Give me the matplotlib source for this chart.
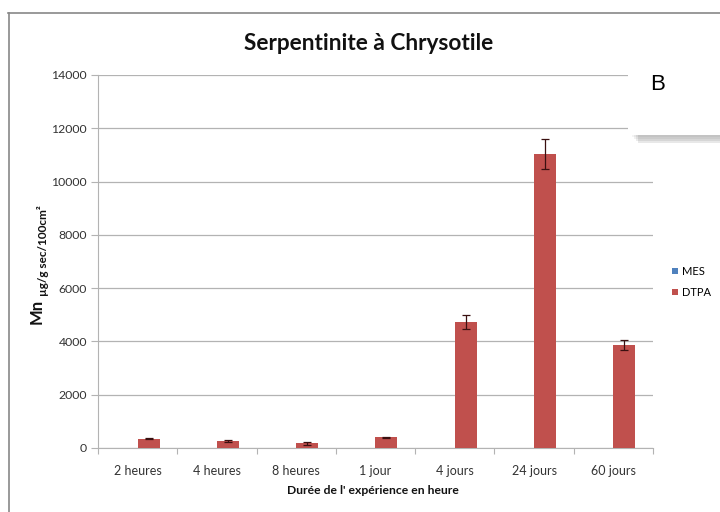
import numpy as np
import matplotlib
matplotlib.use("Agg")
import matplotlib.pyplot as plt
from matplotlib.patches import Rectangle

categories = ["2 heures", "4 heures", "8 heures", "1 jour", "4 jours", "24 jours", "60 jours"]
mes = [0, 0, 0, 0, 0, 0, 0]
dtpa = [355, 270, 170, 400, 4730, 11030, 3880]
dtpa_err = [30, 30, 40, 25, 250, 560, 190]
yticks = [0, 2000, 4000, 6000, 8000, 10000, 12000, 14000]

BLUE = "#4F81BD"
RED = "#C0504D"
GRID = "#b3b3b3"
FONT = ["Lato", "DejaVu Sans"]

W, H = 720, 512
fig = plt.figure(figsize=(W / 100, H / 100), dpi=100)
ax = fig.add_axes([98 / W, 1 - 448 / H, (653 - 98) / W, (448 - 75) / H])

x = np.arange(len(categories))
w = 0.277
ax.bar(x - w / 2, mes, w, color=BLUE, linewidth=0, label="MES", zorder=3)
ax.bar(x + w / 2, dtpa, w, color=RED, linewidth=0, label="DTPA", zorder=3)
ax.errorbar(x + w / 2, dtpa, yerr=dtpa_err, fmt="none", ecolor="#3a1010",
            elinewidth=0.9, capsize=3, capthick=0.9, zorder=4)

ax.set_xlim(-0.5, len(categories) - 0.5)
ax.set_ylim(0, 14000)
ax.set_yticks(yticks)
ax.set_yticklabels([str(v) for v in yticks], family=FONT, fontsize=8.8, color="#333333")
ax.yaxis.grid(True, color=GRID, lw=0.9, zorder=0)
ax.set_axisbelow(True)
ax.tick_params(axis="y", length=5, color=GRID, pad=3)

ax.set_xticks(np.arange(len(categories) + 1) - 0.5)
ax.set_xticklabels([])
ax.set_xticks(x, minor=True)
ax.set_xticklabels(categories, minor=True, family=FONT, fontsize=9, color="#333333")
ax.tick_params(axis="x", which="major", length=4, color=GRID)
ax.tick_params(axis="x", which="minor", length=0, pad=12)

for side in ["top", "right"]:
    ax.spines[side].set_visible(False)
ax.spines["left"].set_color(GRID)
ax.spines["bottom"].set_color(GRID)

fig.text(369 / W, 1 - 43 / H, "Serpentinite à Chrysotile", ha="center", va="center",
         family=FONT, fontsize=16.3, fontweight="bold", color="#111111")
fig.text(373 / W, 1 - 490 / H, "Durée de l' expérience en heure", ha="center", va="center",
         family=FONT, fontsize=8.7, fontweight="bold", color="#111111")
fig.text(37 / W, 1 - 311 / H, "Mn", rotation=90, ha="center", va="center",
         family=FONT, fontsize=12, fontweight="bold", color="#111111")
fig.text(43 / W, 1 - 251 / H, "µg/g sec/100cm²", rotation=90, ha="center", va="center",
         family=FONT, fontsize=8.5, fontweight="bold", color="#111111")

fig.legend(loc="center left", bbox_to_anchor=(672 / W, 1 - 282 / H), frameon=False,
           borderpad=0, borderaxespad=0,
           handlelength=0.55, handleheight=0.55, handletextpad=0.35, labelspacing=0.9,
           prop={"family": FONT, "size": 8})

# chart frame
fig.add_artist(plt.Line2D([8.5 / W, 8.5 / W], [0, 1 - 13 / H], transform=fig.transFigure,
                          color="#888888", lw=1.2))
fig.add_artist(plt.Line2D([8 / W, 1], [1 - 13 / H, 1 - 13 / H], transform=fig.transFigure,
                          color="#888888", lw=1.2))

# "B" panel label box with shadow
for i, a in enumerate([0.06, 0.08, 0.1, 0.12]):
    off = 2 + i * 2
    fig.add_artist(Rectangle(((630 + off) / W, 1 - (135 + off) / H), (92 - off) / W, 113 / H,
                             transform=fig.transFigure, color="#444444", alpha=a, lw=0))
fig.add_artist(Rectangle((628 / W, 1 - 135 / H), 92 / W, 113 / H, transform=fig.transFigure,
                         facecolor="white", edgecolor="none"))
fig.text(658 / W, 1 - 84 / H, "B", ha="center", va="center", family="Liberation Sans",
         fontsize=16, color="black")

fig.savefig("out.png", dpi=100)
